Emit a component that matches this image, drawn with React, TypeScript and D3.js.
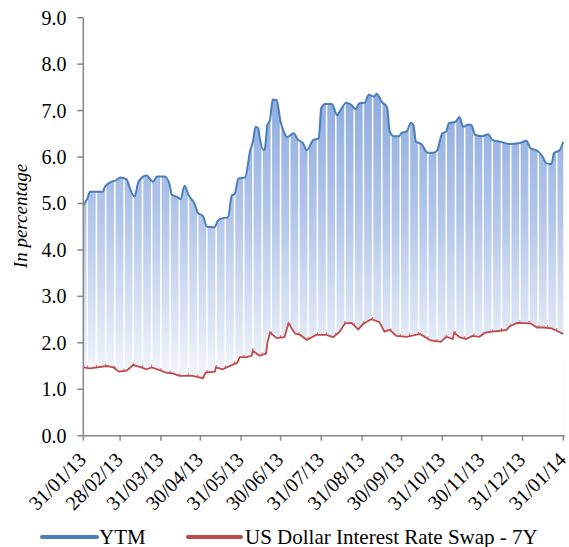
import React from "react";
import * as d3 from "d3";

const ytmDates = [
  "2013-01-31","2013-02-03","2013-02-05","2013-02-15","2013-02-16","2013-02-20","2013-02-25","2013-02-28",
  "2013-03-05","2013-03-07","2013-03-11","2013-03-14","2013-03-20","2013-03-25","2013-03-28","2013-04-03",
  "2013-04-07","2013-04-08","2013-04-13","2013-04-15","2013-04-18","2013-04-21","2013-04-26","2013-04-28",
  "2013-05-02","2013-05-05","2013-05-11","2013-05-13","2013-05-16","2013-05-21","2013-05-24","2013-05-26",
  "2013-05-29","2013-06-03","2013-06-07","2013-06-09","2013-06-11","2013-06-13","2013-06-14","2013-06-17",
  "2013-06-18","2013-06-20","2013-06-22","2013-06-24","2013-06-27","2013-06-30","2013-07-02","2013-07-05",
  "2013-07-10","2013-07-13","2013-07-17","2013-07-20","2013-07-25","2013-07-29","2013-07-31","2013-08-03",
  "2013-08-08","2013-08-12","2013-08-14","2013-08-19","2013-08-23","2013-08-26","2013-08-29","2013-09-02",
  "2013-09-05","2013-09-09","2013-09-11","2013-09-15","2013-09-19","2013-09-21","2013-09-24","2013-09-28",
  "2013-09-30","2013-10-04","2013-10-07","2013-10-09","2013-10-11","2013-10-15","2013-10-20","2013-10-24",
  "2013-10-27","2013-10-31","2013-11-03","2013-11-05","2013-11-10","2013-11-13","2013-11-16","2013-11-20",
  "2013-11-22","2013-11-25","2013-11-30","2013-12-05","2013-12-08","2013-12-14","2013-12-21","2013-12-29",
  "2014-01-03","2014-01-06","2014-01-11","2014-01-15","2014-01-18","2014-01-22","2014-01-24","2014-01-28",
  "2014-01-31"
];
const ytmValues = [
  4.97,5.10,5.25,5.25,5.33,5.45,5.50,5.56,
  5.52,5.36,5.15,5.47,5.60,5.47,5.58,5.58,
  5.36,5.20,5.13,5.09,5.38,5.18,4.97,4.80,
  4.73,4.50,4.49,4.61,4.68,4.70,5.18,5.20,
  5.54,5.56,6.15,6.33,6.65,6.62,6.44,6.15,
  6.17,6.69,6.80,7.24,7.23,6.76,6.58,6.43,
  6.51,6.38,6.30,6.15,6.37,6.40,7.06,7.14,
  7.14,6.90,6.98,7.17,7.12,7.03,7.16,7.17,
  7.34,7.30,7.36,7.19,7.07,6.55,6.45,6.45,
  6.52,6.55,6.74,6.69,6.33,6.28,6.09,6.09,
  6.14,6.51,6.55,6.73,6.76,6.86,6.65,6.70,
  6.69,6.48,6.45,6.49,6.37,6.33,6.28,6.30,
  6.35,6.19,6.14,6.02,5.87,5.85,6.09,6.14,
  6.33
];

const swapDates = [
  "2013-01-31","2013-02-05","2013-02-18","2013-02-23","2013-02-27","2013-03-05","2013-03-10","2013-03-16",
  "2013-03-20","2013-03-24","2013-03-30","2013-04-04","2013-04-09","2013-04-14","2013-04-24","2013-05-02",
  "2013-05-04","2013-05-11","2013-05-12","2013-05-17","2013-05-20","2013-05-24","2013-05-28","2013-05-30",
  "2013-06-04","2013-06-08","2013-06-09","2013-06-14","2013-06-19","2013-06-20","2013-06-22","2013-06-27",
  "2013-07-03","2013-07-06","2013-07-11","2013-07-15","2013-07-20","2013-07-27","2013-08-04","2013-08-09",
  "2013-08-14","2013-08-18","2013-08-23","2013-08-28","2013-09-01","2013-09-07","2013-09-13","2013-09-17",
  "2013-09-21","2013-09-26","2013-10-04","2013-10-14","2013-10-18","2013-10-22","2013-10-30","2013-11-03",
  "2013-11-08","2013-11-09","2013-11-13","2013-11-18","2013-11-23","2013-11-28","2013-12-03","2013-12-08",
  "2013-12-14","2013-12-19","2013-12-21","2013-12-27","2014-01-06","2014-01-11","2014-01-16","2014-01-22",
  "2014-01-26","2014-01-31"
];
const swapValues = [
  1.47,1.45,1.50,1.47,1.38,1.40,1.52,1.47,
  1.43,1.47,1.41,1.36,1.34,1.29,1.29,1.24,
  1.36,1.38,1.47,1.43,1.47,1.52,1.57,1.69,
  1.69,1.72,1.83,1.72,1.77,2.00,2.22,2.10,
  2.12,2.42,2.20,2.17,2.06,2.17,2.17,2.12,
  2.24,2.42,2.43,2.29,2.41,2.51,2.45,2.24,
  2.28,2.15,2.13,2.19,2.12,2.05,2.02,2.13,
  2.08,2.22,2.12,2.08,2.15,2.13,2.22,2.24,
  2.26,2.28,2.35,2.43,2.42,2.33,2.33,2.31,
  2.26,2.19
];

const tickDates = [
  "2013-01-31","2013-02-28","2013-03-31","2013-04-30","2013-05-31","2013-06-30","2013-07-31",
  "2013-08-31","2013-09-30","2013-10-31","2013-11-30","2013-12-31","2014-01-31"
];
const yTicks = [0, 1, 2, 3, 4, 5, 6, 7, 8, 9];
const seriesNames = ["YTM", "US Dollar Interest Rate Swap - 7Y"];

const parse = d3.timeParse("%Y-%m-%d");
const fmt = d3.timeFormat("%d/%m/%y");

const FONT = '"Liberation Serif", Tinos, "Times New Roman", "DejaVu Serif", serif';

export default function App() {
  const W = 569, H = 547;
  const x0 = 83.3, x1 = 563.3, yTop = 17.7, yBot = 435.7;
  const start = parse(tickDates[0])!;
  const end = parse(tickDates[tickDates.length - 1])!;
  const x = d3.scaleTime().domain([start, end]).range([x0, x1]);
  const y = d3.scaleLinear().domain([0, 9]).range([yBot, yTop]);

  const ytm = ytmDates.map((d, i) => ({ d: parse(d)!, v: ytmValues[i] }));
  const swap = swapDates.map((d, i) => ({ d: parse(d)!, v: swapValues[i] }));

  const ytmArea = d3.area<any>().x(p => x(p.d)).y0(yBot).y1(p => y(p.v)).curve(d3.curveMonotoneX)(ytm)!;
  const ytmLine = d3.line<any>().x(p => x(p.d)).y(p => y(p.v)).curve(d3.curveMonotoneX)(ytm)!;
  const swapArea = d3.area<any>().x(p => x(p.d)).y0(yBot + 1).y1(p => y(p.v) + 0.5).curve(d3.curveLinear)(swap)!;
  const swapLine = d3.line<any>().x(p => x(p.d)).y(p => y(p.v)).curve(d3.curveLinear)(swap)!;

  const sundays = d3.timeSunday.range(start, end);
  const bis = d3.bisector((p: any) => p.d).left;
  const swapAt = (dt: Date) => {
    const i = Math.max(1, Math.min(swap.length - 1, bis(swap, dt)));
    const a = swap[i - 1], b = swap[i];
    const t = (+dt - +a.d) / (+b.d - +a.d);
    return a.v + (b.v - a.v) * t;
  };
  const axisColor = "#878787";
  const ts: React.CSSProperties = { fontFamily: FONT };

  return (
    <svg width={W} height={H} style={{ position: "absolute", left: 0, top: 0 }}>
      <defs>
        <linearGradient id="g" gradientUnits="userSpaceOnUse" x1={0} x2={0} y1={y(7.4)} y2={y(1.5)}>
          <stop offset="0" stopColor="#8eacdf" />
          <stop offset="0.45" stopColor="#b2c6ea" />
          <stop offset="1" stopColor="#eef2fa" />
        </linearGradient>
      </defs>
      <path d={ytmArea} fill="url(#g)" />
      {sundays.map((s, i) => (
        <line key={i} x1={x(s)} x2={x(s)} y1={yTop} y2={yBot} stroke="#ffffff" strokeWidth={1.5} />
      ))}
      <path d={swapArea} fill="#ffffff" />
      <path d={ytmLine} fill="none" stroke="#4a7ebb" strokeWidth={2} />
      <path d={swapLine} fill="none" stroke="#be4b48" strokeWidth={1.8} />
      {sundays.map((s, i) => {
        const sy = y(swapAt(s));
        return <line key={"s" + i} x1={x(s)} x2={x(s)} y1={sy} y2={sy - 2.5} stroke="#c45a57" strokeWidth={1} />;
      })}

      {/* y axis */}
      <line x1={x0} x2={x0} y1={yTop} y2={yBot} stroke={axisColor} strokeWidth={1.5} />
      {yTicks.map(t => (
        <g key={t}>
          <line x1={x0 - 6} x2={x0} y1={y(t)} y2={y(t)} stroke={axisColor} strokeWidth={1.5} />
          <text x={66.5} y={y(t)} dy="0.35em" textAnchor="end" fontSize={20} fill="#000" style={ts}>{t.toFixed(1)}</text>
        </g>
      ))}
      {/* x axis */}
      <line x1={x0} x2={x1 + 1.5} y1={yBot} y2={yBot} stroke={axisColor} strokeWidth={1.5} />
      {tickDates.map(t => {
        const d = parse(t)!;
        const px = x(d);
        return (
          <g key={t}>
            <line x1={px} x2={px} y1={yBot} y2={yBot + 5} stroke={axisColor} strokeWidth={1.5} />
            <text transform={`translate(${px + 4},${461}) rotate(-45)`} textAnchor="end" fontSize={20} fill="#000" style={ts}>{fmt(d)}</text>
          </g>
        );
      })}
      <text transform={`translate(27,216) rotate(-90)`} textAnchor="middle" fontSize={19} fontStyle="italic" fill="#000" style={ts}>In percentage</text>

      {/* legend */}
      <line x1={42} x2={97} y1={537} y2={537} stroke="#4a7ebb" strokeWidth={4} strokeLinecap="round" />
      <text x={99} y={543.5} fontSize={21} fill="#000" style={ts}>{seriesNames[0]}</text>
      <line x1={188} x2={241} y1={537} y2={537} stroke="#be4b48" strokeWidth={4} strokeLinecap="round" />
      <text x={245} y={543.5} fontSize={21} fill="#000" style={ts}>{seriesNames[1]}</text>
    </svg>
  );
}
